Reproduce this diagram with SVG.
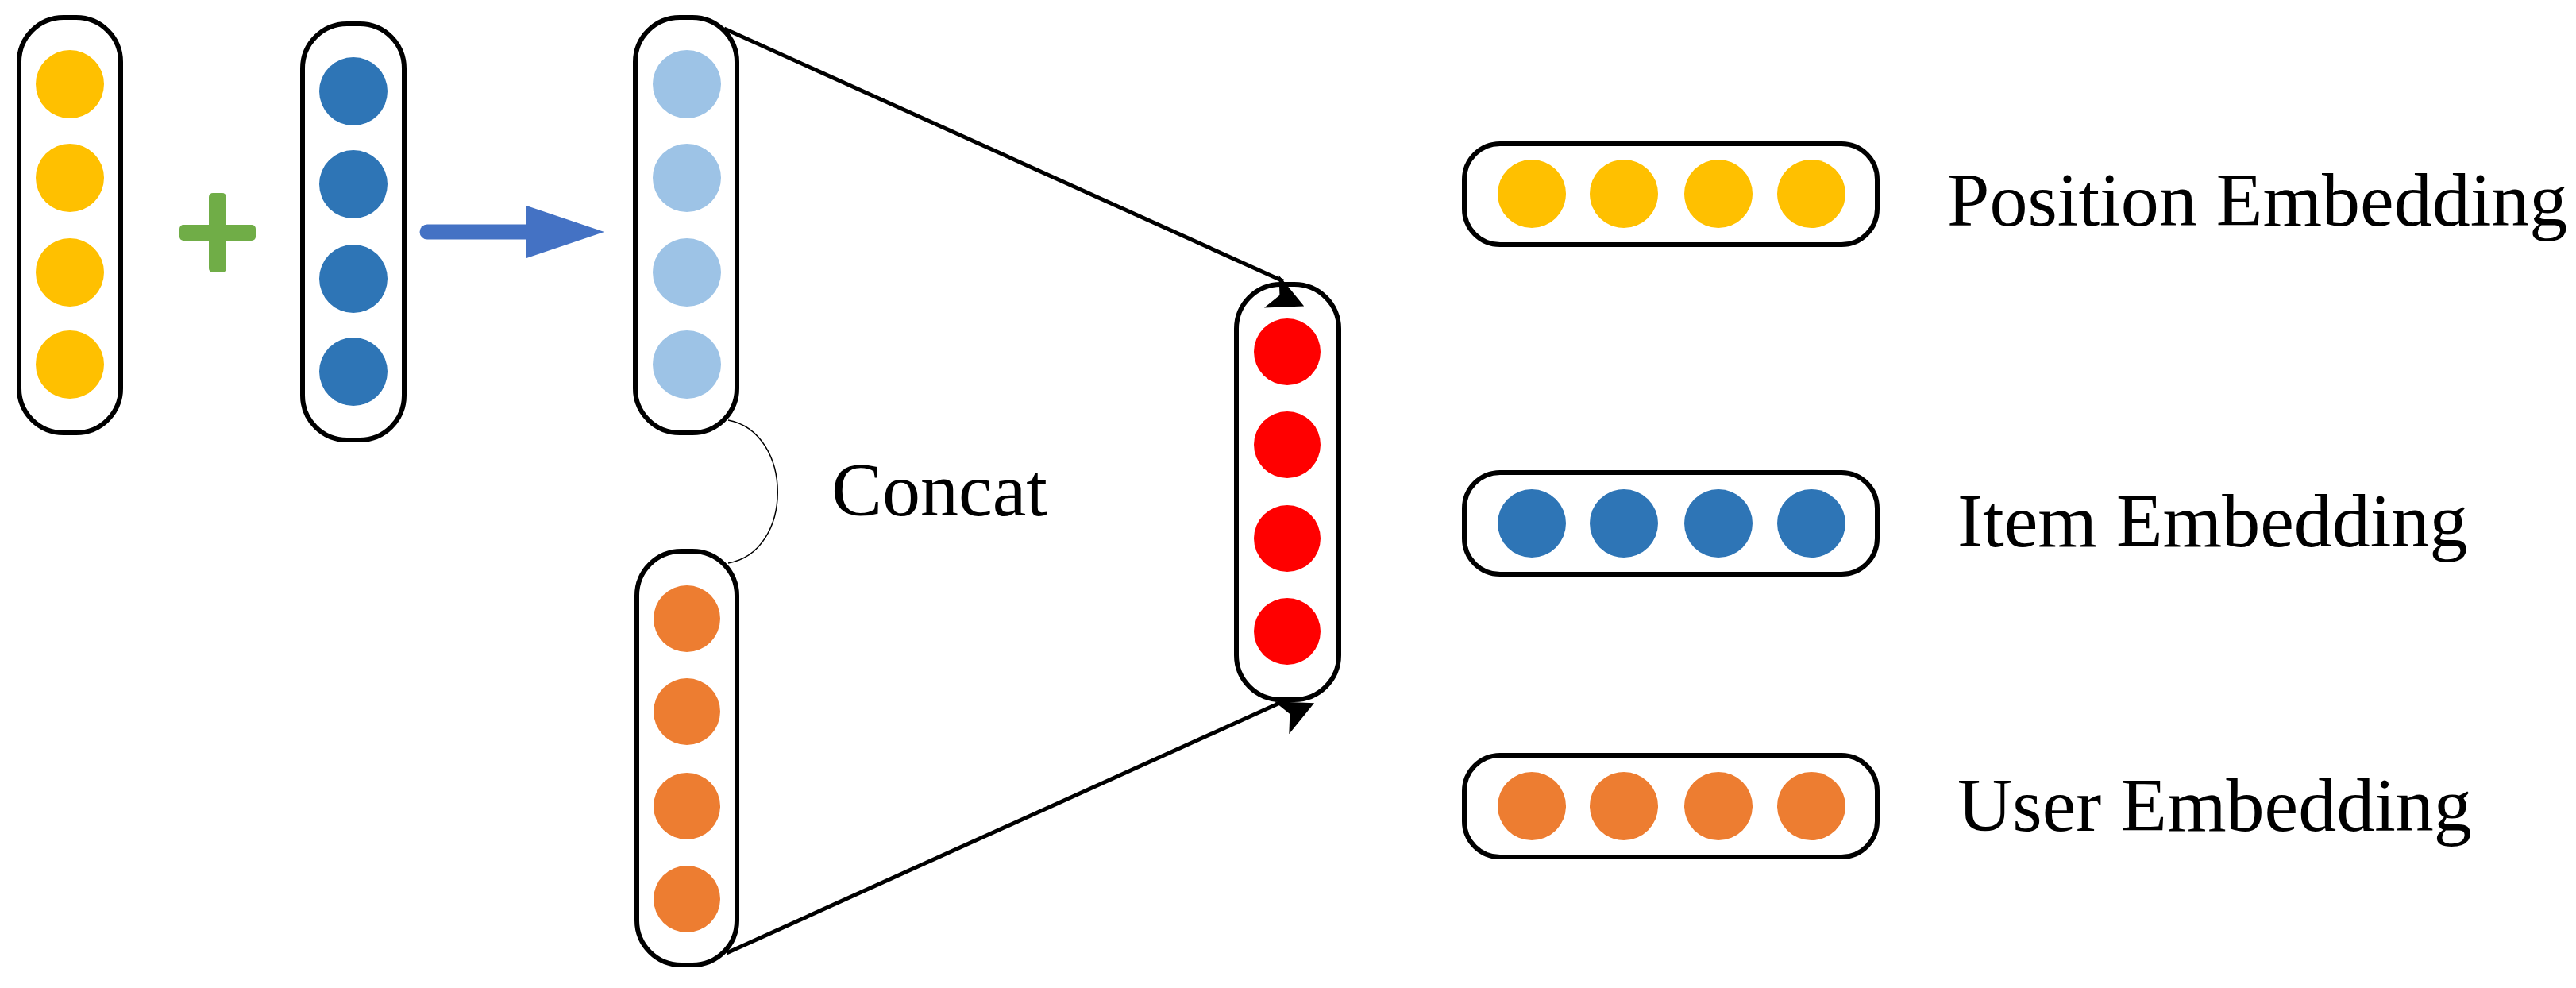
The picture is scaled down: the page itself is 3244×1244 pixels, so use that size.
<svg xmlns="http://www.w3.org/2000/svg" width="3244" height="1244" viewBox="0 0 3244 1244">
<defs>
<style>
.box{fill:#fff;stroke:#000;stroke-width:6}
.y{fill:#FFC000}.b{fill:#2E75B6}.lb{fill:#9DC3E6}.o{fill:#ED7D31}.r{fill:#FF0000}
.t{font-family:"Liberation Serif",serif;font-size:96px;fill:#000}
.ln{stroke:#000;stroke-width:5;fill:none}
</style>
<marker id="ah" viewBox="0 0 10 10" refX="9" refY="5" markerWidth="9" markerHeight="9" markerUnits="userSpaceOnUse" orient="auto" style="overflow:visible">
<path d="M0,0 L10,5 L0,10 L2.5,5 Z" fill="#000" transform="scale(5)"/>
</marker>
</defs>
<g id="pos-vec">
<rect class="box" x="24" y="22" width="128" height="523" rx="56"/>
<circle class="y" cx="88" cy="106" r="43"/><circle class="y" cx="88" cy="224" r="43"/><circle class="y" cx="88" cy="343" r="43"/><circle class="y" cx="88" cy="459" r="43"/>
</g>
<g id="plus" fill="#70AD47">
<rect x="226" y="283" width="96" height="20" rx="5"/>
<rect x="263" y="243" width="22" height="100" rx="5"/>
</g>
<g id="item-vec">
<rect class="box" x="381" y="30" width="128" height="524" rx="56"/>
<circle class="b" cx="445" cy="115" r="43"/><circle class="b" cx="445" cy="232" r="43"/><circle class="b" cx="445" cy="351" r="43"/><circle class="b" cx="445" cy="468" r="43"/>
</g>
<g id="sum-vec">
<rect class="box" x="800" y="22" width="128" height="523" rx="56"/>
<circle class="lb" cx="865" cy="106" r="43"/><circle class="lb" cx="865" cy="224" r="43"/><circle class="lb" cx="865" cy="343" r="43"/><circle class="lb" cx="865" cy="459" r="43"/>
</g>
<g id="user-vec">
<rect class="box" x="802" y="694" width="126" height="521" rx="56"/>
<circle class="o" cx="865" cy="779" r="42"/><circle class="o" cx="865" cy="896" r="42"/><circle class="o" cx="865" cy="1015" r="42"/><circle class="o" cx="865" cy="1132" r="42"/>
</g>
<g id="out-vec">
<rect class="box" x="1557" y="358" width="129" height="523" rx="56"/>
<circle class="r" cx="1621" cy="443" r="42"/><circle class="r" cx="1621" cy="560" r="42"/><circle class="r" cx="1621" cy="678" r="42"/><circle class="r" cx="1621" cy="795" r="42"/>
</g>
<g id="connectors">
<path d="M538,292 L663,292" stroke="#4472C4" stroke-width="19" stroke-linecap="round"/>
<path d="M663,259 L761,292 L663,325 Z" fill="#4472C4"/>
<path class="ln" d="M912,36 L1616,354" marker-end="url(#ah)"/>
<path class="ln" d="M915,1200 L1614,884" marker-end="url(#ah)"/>
<path d="M917,529 C1000,545 1000,695 917,709" stroke="#000" stroke-width="1.5" fill="none"/>
</g>
<text class="t" x="1047" y="649">Concat</text>
<g id="legend-pos">
<rect class="box" x="1844" y="181" width="520" height="127" rx="45"/>
<circle class="y" cx="1929" cy="244" r="43"/><circle class="y" cx="2045" cy="244" r="43"/><circle class="y" cx="2164" cy="244" r="43"/><circle class="y" cx="2281" cy="244" r="43"/>
<text class="t" x="2452" y="284">Position Embedding</text>
</g>
<g id="legend-item">
<rect class="box" x="1844" y="595" width="520" height="128" rx="45"/>
<circle class="b" cx="1929" cy="659" r="43"/><circle class="b" cx="2045" cy="659" r="43"/><circle class="b" cx="2164" cy="659" r="43"/><circle class="b" cx="2281" cy="659" r="43"/>
<text class="t" x="2465" y="688">Item Embedding</text>
</g>
<g id="legend-user">
<rect class="box" x="1844" y="951" width="520" height="128" rx="45"/>
<circle class="o" cx="1929" cy="1015" r="43"/><circle class="o" cx="2045" cy="1015" r="43"/><circle class="o" cx="2164" cy="1015" r="43"/><circle class="o" cx="2281" cy="1015" r="43"/>
<text class="t" x="2465" y="1046">User Embedding</text>
</g>
</svg>
